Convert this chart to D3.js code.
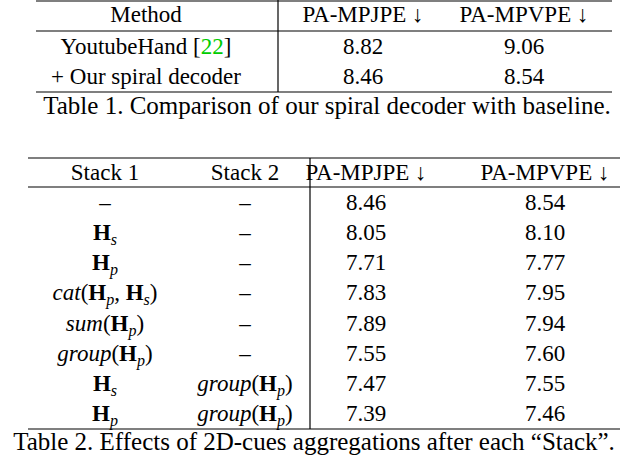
<!DOCTYPE html>
<html><head><meta charset="utf-8">
<script src="https://cdn.jsdelivr.net/npm/d3@7"></script>
<style>body{margin:0;background:#fff}svg text,svg tspan{font-family:"Liberation Serif",serif !important;fill:#000}</style>
</head><body>
<script>
const t1Headers = ["Method", "PA-MPJPE ↓", "PA-MPVPE ↓"];
const t1Methods = ["YoutubeHand", "+ Our spiral decoder"];
const t1Jpe = [8.82, 8.46];
const t1Vpe = [9.06, 8.54];
const t2Headers = ["Stack 1", "Stack 2", "PA-MPJPE ↓", "PA-MPVPE ↓"];
const t2Stack1 = [
  [["–","n"]],
  [["H","b"],["s","si"]],
  [["H","b"],["p","si"]],
  [["cat","i"],["(","n"],["H","b"],["p","si"],[", ","n"],["H","b"],["s","si"],[")","n"]],
  [["sum","i"],["(","n"],["H","b"],["p","si"],[")","n"]],
  [["group","i"],["(","n"],["H","b"],["p","si"],[")","n"]],
  [["H","b"],["s","si"]],
  [["H","b"],["p","si"]]
];
const t2Stack2 = [
  [["–","n"]],[["–","n"]],[["–","n"]],[["–","n"]],[["–","n"]],[["–","n"]],
  [["group","i"],["(","n"],["H","b"],["p","si"],[")","n"]],
  [["group","i"],["(","n"],["H","b"],["p","si"],[")","n"]]
];
const t2Jpe = [8.46, 8.05, 7.71, 7.83, 7.89, 7.55, 7.47, 7.39];
const t2Vpe = [8.54, 8.10, 7.77, 7.95, 7.94, 7.60, 7.55, 7.46];

const FS=23;
const svg = d3.select("body").append("svg").attr("width",628).attr("height",458);
function line(x1,x2,y,w){svg.append("line").attr("x1",x1).attr("x2",x2).attr("y1",y).attr("y2",y).attr("stroke","#000").attr("stroke-width",w||1.2);}
function vline(x,y1,y2){svg.append("line").attr("x1",x).attr("x2",x).attr("y1",y1).attr("y2",y2).attr("stroke","#000").attr("stroke-width",1.2);}
function txt(x,y,s,fs){return svg.append("text").attr("x",x).attr("y",y).attr("text-anchor","middle").attr("font-family","Liberation Serif").attr("font-size",fs||FS).text(s);}
function rich(x,y,parts){
  const t=svg.append("text").attr("x",x).attr("y",y).attr("text-anchor","middle").attr("font-family","Liberation Serif").attr("font-size",FS);
  let sub=false;
  parts.forEach(([s,st])=>{
    const ts=t.append("tspan").text(s);
    if(st==="b")ts.attr("font-weight","bold");
    if(st.includes("i"))ts.attr("font-style","italic");
    if(st.includes("s")){ts.attr("font-size","16px").attr("dy",5);sub=true;}
    else if(sub){ts.attr("dy",-5);sub=false;}
  });
}
const fmt=d3.format(".2f");

// Table 1
const y1 = d3.scalePoint().domain(d3.range(t1Methods.length)).range([46,76]);
const x1 = [146,363,524];
line(36,612,1);
t1Headers.forEach((h,i)=>txt(x1[i],22,h));
line(36,612,31);
t1Methods.forEach((m,i)=>{
  const t=svg.append("text").attr("x",x1[0]).attr("y",y1(i)+8).attr("text-anchor","middle").attr("font-family","Liberation Serif").attr("font-size",FS);
  t.append("tspan").text(m);
  if(i===0){t.append("tspan").text(" [");t.append("tspan").style("fill","#00cc00").text("22");t.append("tspan").text("]");}
  txt(x1[1],y1(i)+8,fmt(t1Jpe[i]));
  txt(x1[2],y1(i)+8,fmt(t1Vpe[i]));
});
line(36,612,92);
vline(278,0,92);
txt(327,114,"Table 1. Comparison of our spiral decoder with baseline.",25);

// Table 2
const y2 = d3.scalePoint().domain(d3.range(t2Jpe.length)).range([202,413]);
const x2 = [105,245,366,545];
line(28,620,158);
t2Headers.forEach((h,i)=>txt(x2[i],180,h));
line(28,620,187);
t2Jpe.forEach((v,i)=>{
  const y=y2(i)+8;
  rich(x2[0],y,t2Stack1[i]);
  rich(x2[1],y,t2Stack2[i]);
  txt(x2[2],y,fmt(v));
  txt(x2[3],y,fmt(t2Vpe[i]));
});
line(28,620,429);
vline(310,158,429);
txt(314,450,"Table 2. Effects of 2D-cues aggregations after each “Stack”.",25);
</script>
</body></html>
